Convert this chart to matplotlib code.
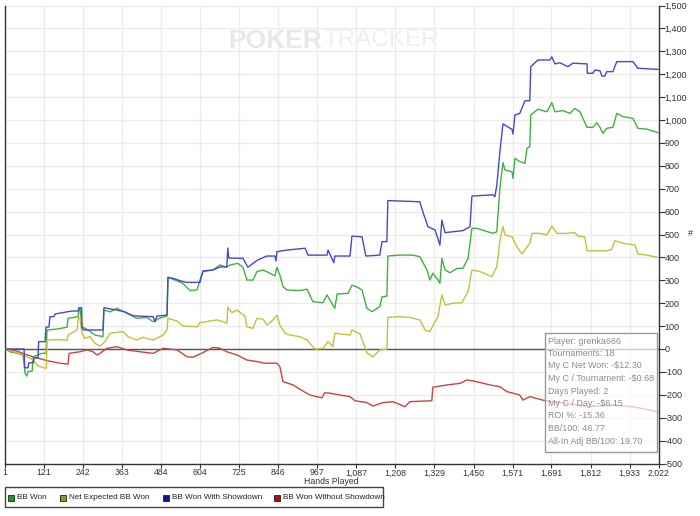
import matplotlib
matplotlib.use("Agg")
import matplotlib.pyplot as plt
from matplotlib.patches import Rectangle

# ---------------- data ----------------
x_ticks = [1, 121, 242, 363, 484, 604, 725, 846, 967, 1087, 1208, 1329, 1450, 1571, 1691, 1812, 1933, 2022]
y_ticks = list(range(-500, 1501, 100))

blue_h = [1, 60, 62, 72, 75, 88, 91, 103, 105, 125, 128, 137, 140, 152, 156, 208, 227, 230, 238, 239, 245, 304, 307, 326,
          347, 372, 397, 459, 465, 471, 502, 505, 527, 536, 561, 604, 613, 644, 666, 687, 690, 693, 737, 752, 774, 783,
          811, 836, 839, 842, 873, 929, 938, 997, 1000, 1018, 1021, 1068, 1074, 1105, 1108, 1117, 1160, 1167, 1182,
          1185, 1284, 1293, 1309, 1331, 1346, 1352, 1362, 1417, 1439, 1445, 1510, 1516, 1522, 1532, 1541, 1569, 1572,
          1578, 1593, 1609, 1624, 1627, 1649, 1686, 1692, 1702, 1717, 1742, 1757, 1801, 1802, 1819, 1825, 1841, 1847,
          1856, 1862, 1881, 1893, 1943, 1958, 2020]
blue_v = [0, 0, -82, -82, -60, -60, -39, -39, 32, 32, 96, 96, 141, 141, 153, 166, 166, 180, 180, 92, 83, 83, 180, 175,
          170, 162, 145, 141, 119, 144, 148, 313, 306, 301, 291, 291, 341, 345, 358, 359, 441, 397, 396, 357, 380, 389,
          406, 406, 384, 425, 432, 440, 410, 410, 432, 377, 406, 406, 493, 490, 469, 406, 410, 469, 469,
          648, 643, 600, 534, 520, 454, 563, 508, 517, 534, 668, 673, 665, 716, 869, 983, 959, 939,
          1022, 1029, 1084, 1084, 1233, 1262, 1262, 1276, 1245, 1250, 1233, 1248, 1245, 1204, 1204, 1218, 1215, 1192,
          1192, 1211, 1211, 1255, 1255, 1226, 1221]

green_h = [1, 16, 38, 57, 63, 69, 72, 85, 88, 103, 115, 128, 131, 156, 193, 196, 227, 230, 233, 239, 258, 279, 304, 307,
           326, 347, 378, 409, 440, 459, 480, 502, 505, 527, 551, 573, 595, 604, 613, 644, 666, 687, 697, 721, 737, 749,
           768, 780, 799, 820, 836, 842, 851, 861, 873, 913, 935, 953, 984, 997, 1015, 1021, 1028, 1062, 1074, 1089,
           1105, 1120, 1136, 1160, 1167, 1182, 1185, 1222, 1262, 1284, 1306, 1315, 1324, 1340, 1346, 1352, 1362, 1377,
           1399, 1417, 1433, 1445, 1460, 1510, 1522, 1524, 1532, 1541, 1547, 1569, 1572, 1578, 1593, 1609, 1615, 1624,
           1627, 1649, 1677, 1692, 1702, 1726, 1748, 1763, 1779, 1801, 1819, 1831, 1841, 1850, 1862, 1881, 1893, 1912,
           1943, 1958, 1986, 2020]
green_v = [0, -12, -19, -26, -106, -118, -99, -96, -34, -26, -19, -19, 83, 86, 95, 134, 141, 178, 178, 97, 83, 61, 54, 170,
           162, 178, 156, 134, 138, 119, 135, 144, 313, 301, 287, 255, 258, 301, 338, 345, 367, 357, 367, 374, 357, 301,
           301, 338, 345, 331, 319, 357, 323, 272, 258, 255, 261, 207, 202, 236, 192, 178, 240, 243, 279, 271,
           258, 178, 163, 185, 228, 231, 406, 410, 410, 403, 345, 301, 331, 301, 287, 396, 345, 333,
           352, 352, 396, 527, 527, 505, 512, 556, 709, 814, 782, 774, 745, 833, 818, 811, 876, 884,
           1022, 1047, 1036, 1076, 1036, 1041, 1029, 1051, 1036, 968, 968, 988, 968, 942, 964, 968, 1029, 1015,
           1007, 964, 960, 945]

yellow_h = [1, 57, 88, 100, 109, 125, 129, 131, 156, 193, 196, 224, 228, 233, 239, 248, 264, 279, 295, 310, 326, 366,
            381, 409, 428, 459, 490, 502, 505, 533, 551, 595, 604, 657, 675, 687, 690, 703, 718, 743, 749, 768, 780,
            799, 811, 830, 842, 851, 867, 882, 913, 935, 960, 984, 1000, 1015, 1021, 1068, 1074, 1099, 1120, 1139,
            1160, 1182, 1185, 1222, 1253, 1284, 1300, 1315, 1331, 1340, 1352, 1362, 1386, 1414, 1433, 1445, 1470,
            1507, 1522, 1532, 1541, 1547, 1569, 1584, 1600, 1624, 1631, 1655, 1677, 1692, 1708, 1739, 1763, 1773,
            1794, 1801, 1862, 1877, 1887, 1912, 1949, 1958, 1986, 2020]
yellow_v = [0, -26, -48, -70, -77, -84, -83, 39, 41, 39, 61, 83, 138, 135, 69, 47, 54, 25, 13, 32, 69, 76,
            54, 39, 51, 39, 61, 83, 134, 122, 100, 97, 115, 127, 119, 112, 182, 159, 170, 144, 97, 90, 134,
            130, 105, 127, 148, 105, 69, 61, 54, 39, -1, 3, 32, 10, 69, 61, 83, 66, -16, -34,
            -4, -1, 138, 141, 138, 127, 83, 76, 119, 141, 236, 192, 200, 202, 250, 345, 338,
            316, 360, 476, 534, 498, 490, 447, 415, 462, 505, 505, 498, 537, 505, 505, 508, 493,
            490, 429, 429, 435, 473, 462, 454, 415, 410, 400]

red_h = [1, 38, 69, 94, 131, 171, 196, 199, 233, 255, 273, 286, 295, 316, 347, 378, 418, 459, 490, 533, 564, 582,
         613, 644, 666, 687, 718, 749, 780, 805, 842, 851, 861, 892, 913, 944, 981, 990, 1006, 1037, 1068, 1083,
         1120, 1139, 1170, 1201, 1238, 1253, 1321, 1324, 1368, 1408, 1430, 1460, 1501, 1532, 1553, 1593, 1603,
         1624, 1664, 1686, 1739, 1801, 1881, 1943, 2020]
red_v = [0, -9, -26, -36, -51, -62, -66, -19, -12, -4, -12, -26, -19, 3, 10, -4, -12, -19, 3, -4, -34, -36,
         -16, 7, 3, -12, -26, -48, -55, -62, -62, -77, -143, -157, -176, -201, -213, -191, -193, -201, -208, -226,
         -234, -249, -234, -230, -252, -230, -226, -167, -157, -150, -135, -143, -157, -165, -186, -201, -223,
         -208, -223, -230, -237, -252, -245, -252, -274]

series_names = ["BB Won", "Net Expected BB Won", "BB Won With Showdown", "BB Won Without Showdown"]
line_colors = ["#3cb43c", "#c4c03a", "#4848c8", "#c84444"]
legend_colors = ["#1a9a1a", "#9a9a10", "#10109a", "#aa1010"]

info_lines = ["Player: grenka666", "Tournaments: 18", "My C Net Won: -$12.30", "My C / Tournament: -$0.68",
              "Days Played: 2", "My C / Day: -$6.15", "ROI %: -15.36", "BB/100: 46.77", "All-In Adj BB/100: 19.70"]

# ---------------- figure ----------------
FONT = ["Liberation Sans", "DejaVu Sans"]
fig = plt.figure(figsize=(7.0, 5.16), dpi=100)
ax = fig.add_axes([5 / 700, 1 - 463.5 / 516, 653.5 / 700, 458 / 516])

ax.set_xlim(1, 2022)
ax.set_ylim(-500, 1500)

# grid
ax.set_xticks(x_ticks)
ax.set_yticks(y_ticks)
ax.grid(True, color="#ececec", lw=1.0, zorder=0)
ax.set_axisbelow(True)

# watermark
fig.text(228 / 700, 1 - 40.5 / 516, "POKER", fontsize=19, fontweight="bold",
         color="#e8e8e8", ha="left", va="center", family=FONT, zorder=1)
fig.text(323 / 700, 1 - 40.5 / 516, "TRACKER", fontsize=17.5,
         color="#efefef", ha="left", va="center", family=FONT, zorder=1)

# zero line
ax.axhline(0, color="#555555", lw=1.0, zorder=2)

# series
data = [(green_h, green_v), (yellow_h, yellow_v), (blue_h, blue_v), (red_h, red_v)]
order = [2, 1, 0, 3]
for i in order:
    h, v = data[i]
    ax.plot(h, v, color=line_colors[i], lw=1.0, zorder=3 + (3 - order.index(i)))

# spines
ax.spines["top"].set_visible(False)
for s in ["left", "right", "bottom"]:
    ax.spines[s].set_color("#333333")
    ax.spines[s].set_linewidth(1.0)

ax.yaxis.tick_right()
ax.tick_params(axis="y", which="both", direction="out", length=4, width=0.8, colors="#333333",
               labelsize=6.5, pad=0.5, labelcolor="#333333")
ax.tick_params(axis="x", which="both", direction="out", length=3, width=0.8, colors="#333333",
               labelsize=6.3, pad=0.5, labelcolor="#333333")
ax.set_xticklabels([f"{t:,}" for t in x_ticks], family=FONT)
ax.set_yticklabels([f"{t:,}" for t in y_ticks], family=FONT)

fig.text(331 / 700, 1 - 481 / 516, "Hands Played", fontsize=6.3, family=FONT, color="#333333",
         ha="center", va="center")
fig.text(690 / 700, 1 - 233 / 516, "#", fontsize=6.5, family=FONT, color="#333333", ha="center", va="center")

# info box
box = Rectangle((545 / 700, 1 - 452 / 516), 112 / 700, 119 / 516, transform=fig.transFigure,
                facecolor="white", alpha=0.7, edgecolor="none", zorder=10)
fig.patches.append(box)
box2 = Rectangle((545 / 700, 1 - 452 / 516), 112 / 700, 119 / 516, transform=fig.transFigure,
                 facecolor="none", edgecolor="#999999", lw=1.0, zorder=11)
fig.patches.append(box2)
for k, line in enumerate(info_lines):
    fig.text(548 / 700, 1 - (341 + k * 12.5) / 516, line, fontsize=6.4, family=FONT, color="#8a8a8a",
             ha="left", va="center", zorder=12)

# legend box
leg_box = Rectangle((5 / 700, 1 - 507 / 516), 378 / 700, 20 / 516, transform=fig.transFigure,
                    facecolor="white", edgecolor="#444444", lw=1.0)
fig.patches.append(leg_box)
leg_x = [8, 60, 163, 274]
for i, name in enumerate(series_names):
    sq = Rectangle((leg_x[i] / 700, 1 - 500.5 / 516), 6 / 700, 6 / 516, transform=fig.transFigure,
                   facecolor=legend_colors[i], edgecolor="#222222", lw=0.6)
    fig.patches.append(sq)
    fig.text((leg_x[i] + 9) / 700, 1 - 497.5 / 516, name, fontsize=5.9, family=FONT, color="#222222",
             ha="left", va="center")

fig.savefig("out.png", dpi=100)
